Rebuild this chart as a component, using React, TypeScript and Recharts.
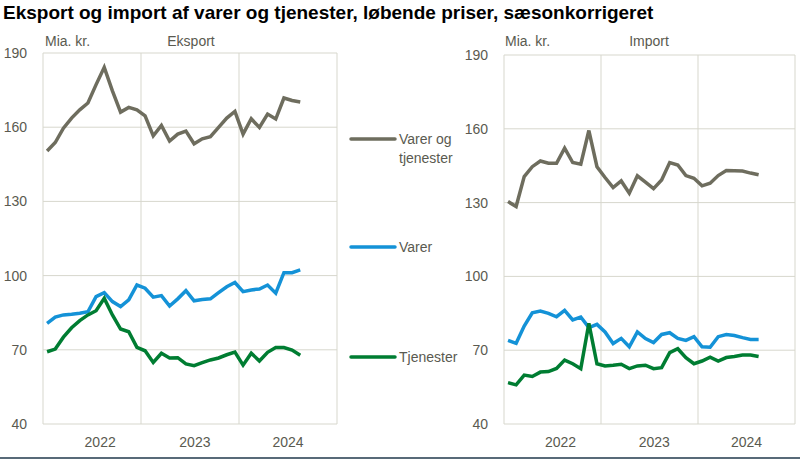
import { LineChart, Line, XAxis, YAxis, CartesianGrid, ReferenceLine } from "recharts";

// monthly values, Jan 2022 - Aug 2024, bn. DKK
const exportTotal = [
  150.4, 153.8, 159.6, 163.7, 167, 169.8, 177.2, 184.2, 174.7, 166.1, 168, 167,
  164.6, 156.5, 160.7, 154.4, 157.2, 158.4, 153.3, 155.3, 156.2, 159.9, 163.7, 166.4,
  157.2, 163.4, 159.9, 165.3, 163.3, 171.8, 170.8, 170.2,
];
const exportGoods = [
  80.7, 83.2, 84.1, 84.4, 84.8, 85.4, 91.5, 93.1, 89.5, 87.5, 90.2, 96.2,
  94.9, 91.3, 91.9, 87.7, 90.6, 93.9, 89.8, 90.3, 90.6, 93.1, 95.5, 97.2,
  93.5, 94.2, 94.6, 96.2, 92.9, 101.2, 101.2, 102.3,
];
const exportServices = [
  69.2, 70.3, 75.1, 78.9, 81.8, 84.1, 85.8, 90.8, 84.1, 78.4, 77.3, 71,
  69.6, 64.9, 68.6, 66.7, 66.8, 64.3, 63.6, 64.8, 65.9, 66.7, 68, 69.1,
  63.8, 68.6, 65.5, 69, 70.9, 70.9, 69.9, 67.8,
];
const importTotal = [
  130.4, 128.4, 140.6, 144.6, 146.9, 146, 146, 152.1, 146.3, 145.6, 159.3, 144.6,
  140.2, 136.1, 138.8, 133.8, 140.9, 138.3, 135.7, 139.2, 146.3, 145.3, 141, 139.9,
  136.8, 137.9, 141, 143, 142.9, 142.8, 142, 141.3,
];
const importGoods = [
  74, 72.8, 79.8, 85.2, 85.9, 85, 83.6, 86.2, 82.3, 83.5, 79.2, 80.5,
  77.4, 72.7, 74.8, 71.4, 77.4, 74.7, 73.1, 76.4, 77.1, 74.8, 74, 75.5,
  71.4, 71.2, 75.5, 76.4, 76, 75.1, 74.4, 74.4,
];
const importServices = [
  56.8, 55.9, 59.9, 59.3, 61.1, 61.3, 62.6, 66, 64.5, 62.5, 80.9, 64.5,
  63.6, 63.9, 64.3, 62.5, 63.6, 63.9, 62.5, 62.9, 69, 70.6, 67, 64.5,
  65.6, 67.2, 65.6, 67, 67.4, 68, 68, 67.4,
];

const yearLabels = ["2022", "2023", "2024"];
const yearTickPos = [7, 18.6, 30];
const yearBounds = [0, 12, 24, 36];
const yTicks = [40, 70, 100, 130, 160, 190];

const GREY = "#6e6d5e";
const BLUE = "#1492d7";
const GREEN = "#007d32";
const GRID = "#d7d7cd";
const TEXT = "#5a5a50";
const FONT = "'Liberation Sans', Arial, sans-serif";

const build = (total: number[], goods: number[], services: number[]) =>
  total.map((v, i) => ({ t: i + 0.5, total: v, goods: goods[i], services: services[i] }));

const exportRows = build(exportTotal, exportGoods, exportServices);
const importRows = build(importTotal, importGoods, importServices);

interface PanelProps {
  rows: ReturnType<typeof build>;
  left: number;
  width: number;
  top: number;
  right: number;
}

function Panel({ rows, left, width, top, right }: PanelProps) {
  const tickStyle = { fill: TEXT, fontSize: 14, fontFamily: FONT };
  return (
    <div style={{ position: "absolute", left, top: 0 }}>
      <LineChart width={width} height={461} data={rows} margin={{ top, right, bottom: 0, left: 0 }}>
        <CartesianGrid vertical={false} stroke={GRID} />
        {yearBounds.map((b) => (
          <ReferenceLine key={b} x={b} stroke={GRID} />
        ))}
        <XAxis
          type="number"
          dataKey="t"
          domain={[0, 36]}
          ticks={yearTickPos}
          tickFormatter={(v: number) => yearLabels[yearTickPos.indexOf(v)] ?? ""}
          axisLine={false}
          tickLine={false}
          tickSize={6}
          tickMargin={7}
          height={37}
          tick={tickStyle}
          interval={0}
        />
        <YAxis
          domain={[40, 190]}
          ticks={yTicks}
          axisLine={false}
          tickLine={false}
          tickSize={6}
          tickMargin={10}
          width={43}
          tick={tickStyle}
          interval={0}
        />
        <Line type="linear" dataKey="total" stroke={GREY} strokeWidth={3.5} dot={false} isAnimationActive={false} />
        <Line type="linear" dataKey="goods" stroke={BLUE} strokeWidth={3.5} dot={false} isAnimationActive={false} />
        <Line type="linear" dataKey="services" stroke={GREEN} strokeWidth={3.5} dot={false} isAnimationActive={false} />
      </LineChart>
    </div>
  );
}

const legendItems = [
  { lines: ["Varer og", "tjenester"], color: GREY, y: 139 },
  { lines: ["Varer"], color: BLUE, y: 247 },
  { lines: ["Tjenester"], color: GREEN, y: 357 },
];

export default function App() {
  return (
    <div
      style={{
        position: "absolute",
        left: 0,
        top: 0,
        width: 800,
        height: 461,
        background: "#fff",
        fontFamily: FONT,
        overflow: "hidden",
      }}
    >
      <Panel rows={exportRows} left={0} width={345} top={53} right={8} />
      <Panel rows={importRows} left={461} width={340} top={55} right={6} />
      <svg width={800} height={461} style={{ position: "absolute", left: 0, top: 0, pointerEvents: "none" }}>
        <text x={3} y={19} fontSize={19} fontWeight="bold" fill="#000" fontFamily={FONT}>
          Eksport og import af varer og tjenester, løbende priser, sæsonkorrigeret
        </text>
        <g fontSize={14} fill={TEXT} fontFamily={FONT}>
          <text x={45} y={46}>Mia. kr.</text>
          <text x={191} y={46} textAnchor="middle">Eksport</text>
          <text x={505} y={46}>Mia. kr.</text>
          <text x={649} y={46} textAnchor="middle">Import</text>
        </g>
        {legendItems.map((it) => (
          <g key={it.color}>
            <line x1={351} x2={395} y1={it.y} y2={it.y} stroke={it.color} strokeWidth={3.5} strokeLinecap="round" />
            {it.lines.map((l, k) => (
              <text key={l} x={399} y={it.y + 5 + k * 19} fontSize={14} fill={TEXT} fontFamily={FONT}>
                {l}
              </text>
            ))}
          </g>
        ))}
      </svg>
      <div style={{ position: "absolute", left: 0, top: 457, width: 800, height: 2, background: "#586a78" }} />
    </div>
  );
}
